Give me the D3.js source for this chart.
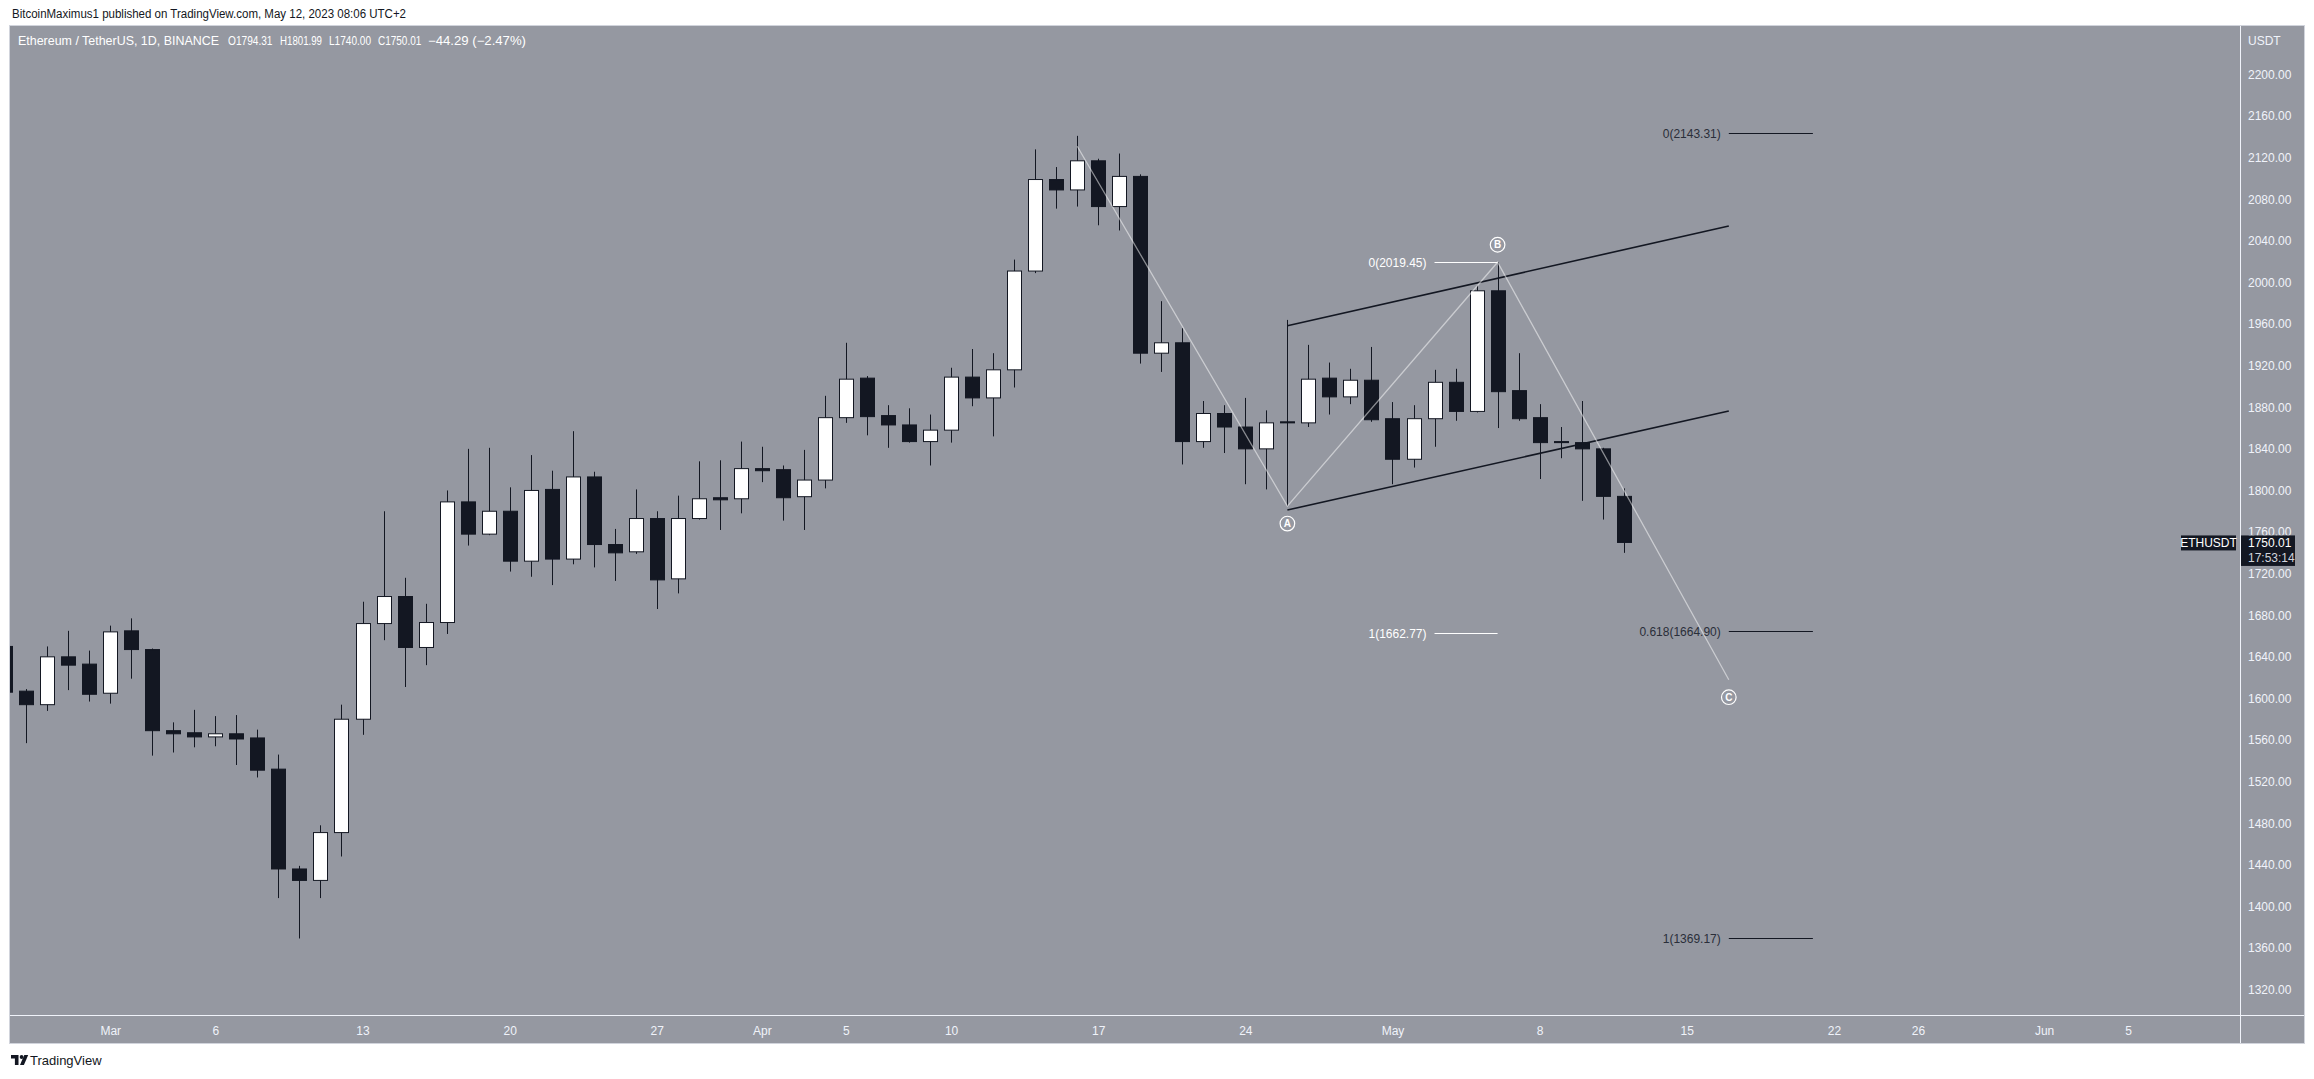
<!DOCTYPE html>
<meta charset="utf-8">
<style>
body { margin: 0; background: #fff; }
svg text { font-family: "Liberation Sans", Arial, sans-serif; }
</style>
<body>
<script src="https://d3js.org/d3.v7.min.js"></script>
<script>
var width = 2314, height = 1079;

// daily candles, ETH/USDT, Binance, from Feb 24 2023
var firstDay = "2023-02-24";
var opens  = [1650,1607,1594,1640,1633,1605,1665,1647,1569,1567,1563,1566,1562,1532,1436,1425,1471,1580,1672,1698,1649,1673,1789,1758,1780,1732,1801,1734,1813,1748,1741,1773,1715,1773,1793,1792,
              1821,1820,1794,1810,1870,1908,1872,1863,1847,1858,1909,1889,1916,2011,2099,2089,2117,2073,2102,1932,1942,1847,1874,1861,1840,1866,1865,1908,1890,1906,
              1869,1830,1869,1904,1876,1992,1896,1870,1847,1846,1840,1794.31];
var highs  = [1680,1609,1650,1665,1646,1670,1677,1648,1577,1589,1583,1584,1570,1546,1439,1478,1594,1693,1780,1716,1691,1800,1840,1841,1803,1834,1819,1857,1818,1763,1801,1780,1795,1828,1829,1847,
              1842,1824,1839,1891,1942,1910,1882,1879,1873,1918,1936,1932,2022,2128,2111,2141,2119,2124,2104,1982,1956,1886,1882,1889,1877,1964,1940,1923,1917,1938,
              1885,1882,1916,1917,1997,2019.45,1932,1883,1861,1886,1841,1801.99];
var lows   = [1585,1557,1588,1608,1597,1595,1619,1545,1548,1553,1554,1536,1524,1408,1369.17,1408,1448,1565,1656,1611,1632,1662,1747,1757,1722,1717,1709,1729,1726,1713,1739,1686,1701,1772,1762,1778,
              1808,1771,1762,1802,1865,1853,1841,1846,1824,1846,1881,1852,1899,2009,2071,2073,2055,2050,1922,1914,1825,1841,1836,1806,1801,1785,1861,1873,1883,1866,
              1806,1822,1842,1867,1875,1860,1867,1811,1831,1790,1772,1740];
var closes = [1606,1594,1640,1632,1604,1664,1647,1569,1566,1563,1566,1561,1531,1436,1425,1471,1580,1672,1698,1649,1673,1789,1758,1780,1732,1800,1734,1813,1748,1740,1773,1714,1773,1792,1791,1821,
              1819,1793,1810,1870,1907,1871,1863,1847,1858,1909,1889,1916,2011,2099,2089,2117,2073,2102,1932,1942,1847,1874,1861,1840,1865,1865,1907,1890,1906,1868,
              1830,1869,1904,1876,1992,1895,1869,1846,1846,1840,1794.31,1750.01];

var priceTicks = [2200,2160,2120,2080,2040,2000,1960,1920,1880,1840,1800,1760,1720,1680,1640,1600,1560,1520,1480,1440,1400,1360,1320];
var timeTickDates  = ["2023-03-01","2023-03-06","2023-03-13","2023-03-20","2023-03-27","2023-04-01","2023-04-05","2023-04-10","2023-04-17","2023-04-24","2023-05-01","2023-05-08","2023-05-15","2023-05-22","2023-05-26","2023-06-01","2023-06-05"];
var timeTickLabels = ["Mar","6","13","20","27","Apr","5","10","17","24","May","8","15","22","26","Jun","5"];

// drawings
var zigzagDates  = ["2023-04-16","2023-04-26","2023-05-06","2023-05-17"];
var zigzagPrices = [2131, 1785, 2019.45, 1618];
var waveNames    = ["", "A", "B", "C"];
var waveSide     = [0, 1, -1, 1];

var channelDates = ["2023-04-26","2023-05-17"];
var channelUpper = [1958.4, 2054.3];
var channelLower = [1781.2, 1876.4];

var fibWhiteDates  = ["2023-05-03","2023-05-06"];
var fibWhiteLevels = ["0","1"];
var fibWhitePrices = [2019.45, 1662.77];

var fibDarkDates  = ["2023-05-17","2023-05-21"];
var fibDarkLevels = ["0","0.618","1"];
var fibDarkPrices = [2143.31, 1664.90, 1369.17];

var lastPrice = 1750.01;

var bg = "#9598a1", ink = "#131722", axisText = "#f0f3fa";
var plotL = 10, plotR = 2240, plotT = 26, plotB = 1015, paneR = 2304, paneB = 1043;

var day0 = new Date(firstDay);
var days = d3.utcDay.range(day0, d3.utcDay.offset(day0, opens.length));

var x = d3.scaleUtc()
    .domain([new Date(Date.UTC(2023, 1, 24, 5, 31)), new Date(Date.UTC(2023, 5, 10, 7, 40))])
    .range([plotL, plotR]);
var y = d3.scaleLinear()
    .domain([1320, 2200])
    .range([989.6, 74.5]);

var svg = d3.select("body").append("svg")
    .attr("width", width)
    .attr("height", height);

svg.append("text")
    .attr("x", 12).attr("y", 18)
    .attr("font-size", 12).attr("fill", ink)
    .attr("textLength", 394).attr("lengthAdjust", "spacingAndGlyphs")
    .text("BitcoinMaximus1 published on TradingView.com, May 12, 2023 08:06 UTC+2");

svg.append("rect")
    .attr("x", plotL - 0.5).attr("y", plotT - 0.5)
    .attr("width", paneR - plotL + 1).attr("height", paneB - plotT + 1)
    .attr("fill", bg).attr("stroke", "#d1d4dc");

svg.append("defs").append("clipPath").attr("id", "plot")
  .append("rect").attr("x", plotL).attr("y", plotT).attr("width", plotR - plotL).attr("height", plotB - plotT);

var plot = svg.append("g").attr("clip-path", "url(#plot)");

// candles
var candles = plot.append("g");
days.forEach(function(d, i) {
  var cx = Math.round(x(d)) + 0.5;
  var up = closes[i] >= opens[i];
  candles.append("line")
      .attr("x1", cx).attr("x2", cx)
      .attr("y1", y(highs[i])).attr("y2", y(lows[i]))
      .attr("stroke", ink).attr("stroke-width", 1);
  var yt = y(Math.max(opens[i], closes[i])), yb = y(Math.min(opens[i], closes[i]));
  candles.append("rect")
      .attr("x", cx - 7).attr("width", 14)
      .attr("y", yt).attr("height", Math.max(1, yb - yt))
      .attr("fill", up ? "#ffffff" : ink)
      .attr("stroke", ink).attr("stroke-width", 1);
});

// channel
var chX = channelDates.map(function(d) { return x(new Date(d)); });
[channelUpper, channelLower].forEach(function(p) {
  plot.append("line")
      .attr("x1", chX[0]).attr("y1", y(p[0]))
      .attr("x2", chX[1]).attr("y2", y(p[1]))
      .attr("stroke", ink).attr("stroke-width", 1.6);
});

// zigzag
var zz = zigzagDates.map(function(d, i) { return [x(new Date(d)), y(zigzagPrices[i])]; });
plot.append("path")
    .attr("d", d3.line()(zz))
    .attr("fill", "none")
    .attr("stroke", "rgba(255,255,255,0.5)")
    .attr("stroke-width", 1.3);

zz.forEach(function(p, i) {
  if (!waveNames[i]) return;
  var g = plot.append("g").attr("transform", "translate(" + p[0] + "," + (p[1] + waveSide[i] * 17.5) + ")");
  g.append("circle").attr("r", 7.3).attr("fill", "none").attr("stroke", "#fff").attr("stroke-width", 1.2);
  g.append("text").attr("text-anchor", "middle").attr("dy", "0.36em")
      .attr("font-size", 10).attr("font-weight", "bold").attr("fill", "#fff").text(waveNames[i]);
});

// fib levels
function fib(dates, levels, prices, lineColor, textColor) {
  var x0 = x(new Date(dates[0])), x1 = x(new Date(dates[1]));
  levels.forEach(function(l, i) {
    var yy = Math.round(y(prices[i])) + 0.5;
    plot.append("line")
        .attr("x1", x0).attr("x2", x1).attr("y1", yy).attr("y2", yy)
        .attr("stroke", lineColor).attr("stroke-width", 1.2);
    plot.append("text")
        .attr("x", x0 - 8).attr("y", yy).attr("dy", "0.35em")
        .attr("text-anchor", "end").attr("font-size", 12).attr("fill", textColor)
        .text(l + "(" + prices[i].toFixed(2) + ")");
  });
}
fib(fibWhiteDates, fibWhiteLevels, fibWhitePrices, "#ffffff", "#ffffff");
fib(fibDarkDates, fibDarkLevels, fibDarkPrices, ink, "#2a2e39");

// separators
svg.append("line").attr("x1", plotR + 0.5).attr("x2", plotR + 0.5).attr("y1", plotT).attr("y2", paneB)
    .attr("stroke", axisText).attr("stroke-width", 1);
svg.append("line").attr("x1", plotL).attr("x2", paneR).attr("y1", plotB + 0.5).attr("y2", plotB + 0.5)
    .attr("stroke", axisText).attr("stroke-width", 1);

// price axis
var yAxis = svg.append("g")
    .attr("transform", "translate(" + plotR + ",0)")
    .call(d3.axisRight(y).tickValues(priceTicks).tickFormat(d3.format(".2f")).tickSize(0).tickPadding(8));
yAxis.select(".domain").remove();
yAxis.selectAll("text").attr("font-size", 12).attr("fill", axisText).style("font-family", "Liberation Sans, Arial, sans-serif");

svg.append("text").attr("x", plotR + 8).attr("y", 41).attr("dy", "0.35em")
    .attr("font-size", 12).attr("fill", axisText).text("USDT");

// time axis
var tickDates = timeTickDates.map(function(d) { return new Date(d); });
var xAxis = svg.append("g")
    .attr("transform", "translate(0," + plotB + ")")
    .call(d3.axisBottom(x).tickValues(tickDates)
      .tickFormat(function(d, i) { return timeTickLabels[i]; })
      .tickSize(0).tickPadding(11));
xAxis.select(".domain").remove();
xAxis.selectAll("text").attr("font-size", 12).attr("fill", axisText).style("font-family", "Liberation Sans, Arial, sans-serif");

// last price labels
var yl = y(lastPrice);
svg.append("rect").attr("x", 2181).attr("y", yl - 7).attr("width", 55).attr("height", 15).attr("fill", ink);
svg.append("text").attr("x", 2208.5).attr("y", yl).attr("dy", "0.36em").attr("text-anchor", "middle")
    .attr("font-size", 12).attr("fill", "#fff").text("ETHUSDT");
svg.append("rect").attr("x", plotR + 1).attr("y", yl - 7).attr("width", 54).attr("height", 30.5).attr("fill", ink);
svg.append("text").attr("x", plotR + 8).attr("y", yl).attr("dy", "0.36em")
    .attr("font-size", 12).attr("fill", "#fff").text(lastPrice.toFixed(2));
svg.append("text").attr("x", plotR + 8).attr("y", yl + 15.5).attr("dy", "0.36em")
    .attr("font-size", 12).attr("fill", "#d1d4dc").text("17:53:14");

// legend
var legendParts = ["Ethereum / TetherUS, 1D, BINANCE", "O1794.31", "H1801.99", "L1740.00", "C1750.01", "\u221244.29 (\u22122.47%)"];
var legendX = [18, 228, 280, 329, 378, 428];
var legendW = [201, 44.5, 42, 42, 43.3, 98];
legendParts.forEach(function(t, i) {
  svg.append("text").attr("x", legendX[i]).attr("y", 41).attr("dy", "0.35em")
      .attr("font-size", 12).attr("fill", "#fff")
      .attr("textLength", legendW[i]).attr("lengthAdjust", "spacingAndGlyphs")
      .text(t);
});

// TradingView logo
var logo = svg.append("g").attr("fill", ink);
logo.append("path").attr("d", "M11,1055h7.5v10h-3.6v-6.4h-3.9z");
logo.append("circle").attr("cx", 21.6).attr("cy", 1057).attr("r", 1.9);
logo.append("path").attr("d", "M24.3,1055h3.9l-4.3,10h-3.9z");
svg.append("text").attr("x", 30).attr("y", 1064.5).attr("font-size", 13).attr("fill", ink).text("TradingView");
</script>
</body>
